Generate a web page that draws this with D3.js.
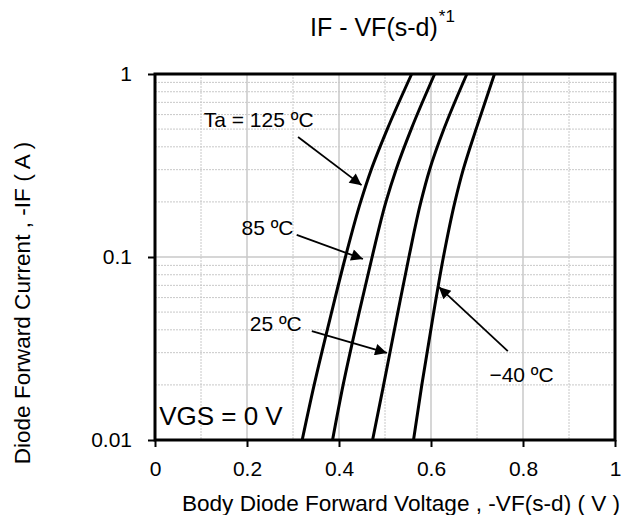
<!DOCTYPE html>
<html>
<head>
<meta charset="utf-8">
<script src="https://cdn.jsdelivr.net/npm/d3@7"></script>
<style>
  body { margin: 0; background: #fff; }
  svg { display: block; font-family: "Liberation Sans", Arial, sans-serif; }
</style>
</head>
<body>
<div id="chart"></div>
<script>
// Forward current points (A) shared by all curves
const currents = [0.01, 0.02, 0.05, 0.1, 0.2, 0.3, 0.5, 1];
// Forward voltage (V) at each current, per ambient temperature
const vf125 = [0.320, 0.346, 0.384, 0.414, 0.447, 0.470, 0.505, 0.558];
const vf85 = [0.386, 0.409, 0.444, 0.472, 0.502, 0.524, 0.557, 0.608];
const vf25 = [0.473, 0.497, 0.528, 0.552, 0.578, 0.597, 0.628, 0.678];
const vfm40 = [0.562, 0.580, 0.606, 0.627, 0.652, 0.670, 0.698, 0.738];

const xTicks = [0, 0.2, 0.4, 0.6, 0.8, 1];
const xMinor = [0.1, 0.3, 0.5, 0.7, 0.9];
const yTicks = [0.01, 0.1, 1];
const yTickLabels = ['0.01', '0.1', '1'];

// Temperature labels: text, label anchor, arrow tail, arrow tip (data units)
const labels = [
  { text: 'Ta = 125 \u00baC', at: [0.106, 0.515], from: [0.311, 0.453], to: [0.449, 0.247] },
  { text: '85 \u00baC', at: [0.188, 0.132], from: [0.308, 0.132], to: [0.452, 0.0975] },
  { text: '25 \u00baC', at: [0.206, 0.0394], from: [0.341, 0.0394], to: [0.504, 0.0299] },
  { text: '\u221240 \u00baC', at: [0.727, 0.0208], from: [0.767, 0.0306], to: [0.617, 0.0686] }
];

const W = 634, H = 515;
const margin = { top: 74, right: 19, bottom: 75, left: 155 };
const width = W - margin.left - margin.right;
const height = H - margin.top - margin.bottom;

const svg = d3.select('#chart').append('svg')
  .attr('width', W)
  .attr('height', H);

const defs = svg.append('defs');
defs.append('marker')
  .attr('id', 'arrow')
  .attr('viewBox', '0 0 10 10')
  .attr('refX', 10).attr('refY', 5)
  .attr('markerWidth', 8).attr('markerHeight', 6.5)
  .attr('markerUnits', 'strokeWidth')
  .attr('orient', 'auto')
  .append('path')
  .attr('d', 'M0,0L10,5L0,10z')
  .attr('fill', '#000');

const g = svg.append('g')
  .attr('transform', `translate(${margin.left},${margin.top})`);

const x = d3.scaleLinear().domain([0, 1]).range([0, width]);
const y = d3.scaleLog().domain([0.01, 1]).range([height, 0]);

// Minor grid
const yMinor = [];
[0.01, 0.1].forEach(d => { for (let k = 2; k <= 9; k++) yMinor.push(d * k); });

g.append('g').selectAll('line')
  .data(yMinor)
  .join('line')
  .attr('x1', 0).attr('x2', width)
  .attr('y1', d => y(d)).attr('y2', d => y(d))
  .attr('stroke', '#c8c8c8')
  .attr('stroke-dasharray', '2,1');

g.append('g').selectAll('line')
  .data(xMinor)
  .join('line')
  .attr('x1', d => x(d)).attr('x2', d => x(d))
  .attr('y1', 0).attr('y2', height)
  .attr('stroke', '#c8c8c8')
  .attr('stroke-dasharray', '2,1');

// Major grid
g.append('g').selectAll('line')
  .data(xTicks)
  .join('line')
  .attr('x1', d => x(d)).attr('x2', d => x(d))
  .attr('y1', 0).attr('y2', height)
  .attr('stroke', '#c8c8c8')
  .attr('stroke-width', 1.5);

g.append('g').selectAll('line')
  .data(yTicks)
  .join('line')
  .attr('x1', 0).attr('x2', width)
  .attr('y1', d => y(d)).attr('y2', d => y(d))
  .attr('stroke', '#c8c8c8')
  .attr('stroke-width', 1.5);

// Curves (x as a smooth function of log current)
const line = d3.line()
  .x(d => x(d[0]))
  .y(d => y(d[1]))
  .curve(d3.curveMonotoneY);

[vf125, vf85, vf25, vfm40].forEach(series => {
  g.append('path')
    .datum(series.map((v, i) => [v, currents[i]]))
    .attr('fill', 'none')
    .attr('stroke', '#000')
    .attr('stroke-width', 3)
    .attr('d', line);
});

// Frame
g.append('rect')
  .attr('width', width)
  .attr('height', height)
  .attr('fill', 'none')
  .attr('stroke', '#000')
  .attr('stroke-width', 3);

// Axes
const xAxis = g.append('g')
  .attr('transform', `translate(0,${height})`)
  .call(d3.axisBottom(x).tickValues(xTicks).tickFormat(d3.format('')).tickSize(7).tickPadding(14));

const yAxis = g.append('g')
  .call(d3.axisLeft(y).tickValues(yTicks).tickFormat((d, i) => yTickLabels[i]).tickSize(7).tickPadding(16));

[xAxis, yAxis].forEach(a => {
  a.select('.domain').remove();
  a.selectAll('.tick line').attr('stroke', '#000').attr('stroke-width', 2);
  a.selectAll('.tick text')
    .attr('fill', '#000')
    .attr('font-size', '21px')
    .attr('font-family', '"Liberation Sans", Arial, sans-serif');
});

// Annotations
labels.forEach(l => {
  g.append('text')
    .attr('x', x(l.at[0]))
    .attr('y', y(l.at[1]))
    .attr('font-size', '21px')
    .text(l.text);
  g.append('line')
    .attr('x1', x(l.from[0])).attr('y1', y(l.from[1]))
    .attr('x2', x(l.to[0])).attr('y2', y(l.to[1]))
    .attr('stroke', '#000')
    .attr('stroke-width', 1.8)
    .attr('marker-end', 'url(#arrow)');
});

g.append('text')
  .attr('x', x(0.009))
  .attr('y', y(0.0121))
  .attr('font-size', '26px')
  .text('VGS = 0 V');

// Titles
const title = svg.append('text')
  .attr('x', 310)
  .attr('y', 36)
  .attr('font-size', '25px');
title.append('tspan').text('IF - VF(s-d)');
title.append('tspan').attr('dy', -14).attr('dx', 1).attr('font-size', '17px').text('*1');

svg.append('text')
  .attr('x', margin.left + width / 2 + 16)
  .attr('y', 511)
  .attr('text-anchor', 'middle')
  .attr('font-size', '22.6px')
  .text('Body Diode Forward Voltage , -VF(s-d) ( V )');

svg.append('text')
  .attr('transform', `translate(30,${margin.top + height / 2 + 46}) rotate(-90)`)
  .attr('text-anchor', 'middle')
  .attr('font-size', '22.6px')
  .text('Diode Forward Current , -IF ( A )');
</script>
</body>
</html>
